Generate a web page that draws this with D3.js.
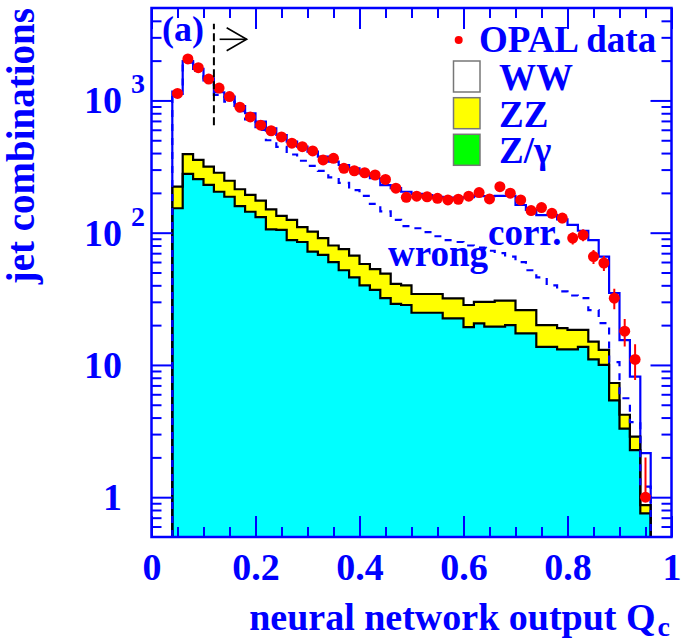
<!DOCTYPE html>
<html><head><meta charset="utf-8">
<script src="https://cdn.jsdelivr.net/npm/d3@7"></script>
<style>body{margin:0;background:#fff}svg{display:block}</style>
</head><body><svg id="c" width="682" height="638"></svg>
<script>
// ---- data ----
const binLow = [0.04,0.06,0.08,0.10,0.12,0.14,0.16,0.18,0.20,0.22,0.24,0.26,0.28,0.30,0.32,0.34,0.36,0.38,0.40,0.42,0.44,0.46,0.48,0.50,0.52,0.54,0.56,0.58,0.60,0.62,0.64,0.66,0.68,0.70,0.72,0.74,0.76,0.78,0.80,0.82,0.84,0.86,0.88,0.90,0.92,0.94];
const binWidth = 0.02;
const zgamma = [153,278,254,230,204,187,159,144,131,106,105,88,85,72,68,60,52,46,40,37,32,29,28.4,24.8,24.8,24.8,22.5,22.5,19.3,20.6,19.5,19.5,20,17.3,17.3,13.7,13.7,13.1,13.1,13.7,11.0,10.0,5.4,3.3,2.27,0.755];
const zz = [70,115,101,86,80,60,54,49,44,44,29,37,25,30,23,20,23,21,18,16,17,12,11.6,9.6,9.6,9.6,9.4,9.4,9.1,9.4,10.5,11.1,10.6,8.7,8.7,6.3,6.3,5.9,5.3,4.7,4.0,3.0,1.9,0.9,0.6,0.115];
const ww = [942,1594,1375,1154,869,820,695,607,516,465,414,363,337,308,285,265,250,240,223,205,180,176,164,162,158,152,152,152,157,159,159,159,159,136,123,116,116,107,96,85,73,53,27.7,11.2,5.3,1.28];
const wrongLine = [1120,1930,1680,1420,1100,980,830,720,600,500,445,390,350,320,293,262,238,210,190,165,145,125,112,108,101,94,88,85,80,77,73,70,66,60,52,46,40,36,33.5,32,26,20.7,10.5,5.6,3.7,1.2];
const opalData = [1130,2060,1770,1450,1240,1070,890,750,650,590,530,475,447,415,355,365,307,294,284,273,253,217,185,189,187,182,177,179,189,201,180,223,199,177,147,155,140,129,91,96,66,59,32,18,11,1];

const xMajor = [0,0.2,0.4,0.6,0.8,1];
const xMinor = [0.05,0.1,0.15,0.25,0.3,0.35,0.45,0.5,0.55,0.65,0.7,0.75,0.85,0.9,0.95];
const yMajor = [1,10,100,1000];
const yMinor = [0.6,0.7,0.8,0.9,2,3,4,5,6,7,8,9,20,30,40,50,60,70,80,90,200,300,400,500,600,700,800,900,2000,3000,4000];
const yTickBase = ["1","10","10","10"];
const yTickExp = ["","","2","3"];
const legendLabels = ["OPAL data","WW","ZZ","Z/\u03b3"];
const legendFills = [null,"#ffffff","#ffff00","#00ff00"];
const cutValue = 0.12;              // dashed selection cut
const cutRange = [650, 3800];
const arrowX = [0.131, 0.183];
const arrowY = 2900;

// ---- setup ----
const svg = d3.select("#c");
const BLUE = "#0000ff";
const FONT = "'Liberation Serif','Times New Roman',serif";
const x = d3.scaleLinear().domain([0,1]).range([151.5,671.5]);
const y = d3.scaleLog().domain([0.5,5000]).range([537,8]);
const yMin = 0.5;

const rows = binLow.map((lo,i)=>({lo:lo, hi:lo+binWidth, zgamma:zgamma[i], zz:zz[i], ww:ww[i]}));
const stacked = d3.stack().keys(["zgamma","zz","ww"])(rows);

svg.append("defs").append("clipPath").attr("id","plot")
  .append("rect").attr("x",x(0)).attr("y",y(5000)).attr("width",x(1)-x(0)).attr("height",y(yMin)-y(5000));
const plot = svg.append("g").attr("clip-path","url(#plot)");

function stepBand(layer){
  const pts=[];
  layer.forEach(d=>{pts.push({x:d.data.lo,y0:Math.max(d[0],yMin),y1:d[1]});pts.push({x:d.data.hi,y0:Math.max(d[0],yMin),y1:d[1]});});
  return pts;
}
function stepLine(vals){
  const pts=[[binLow[0],yMin]];
  vals.forEach((v,i)=>{pts.push([binLow[i],v]);pts.push([binLow[i]+binWidth,v]);});
  pts.push([binLow[binLow.length-1]+binWidth,yMin]);
  return pts;
}
const area = d3.area().x(d=>x(d.x)).y0(d=>y(d.y0)).y1(d=>y(d.y1));
const line = d3.line().x(d=>x(d[0])).y(d=>y(Math.max(d[1],0.01)));

// fills
plot.append("path").attr("d",area(stepBand(stacked[0]))).attr("fill","#00ffff");
plot.append("path").attr("d",area(stepBand(stacked[1]))).attr("fill","#ffff00");

// total MC (solid blue)
plot.append("path").attr("d",line(stepLine(stacked[2].map(d=>d[1]))))
  .attr("fill","none").attr("stroke",BLUE).attr("stroke-width",2.2);
// black outlines
plot.append("path").attr("d",line(stepLine(stacked[0].map(d=>d[1]))))
  .attr("fill","none").attr("stroke","#000").attr("stroke-width",2.2);
plot.append("path").attr("d",line(stepLine(stacked[1].map(d=>d[1]))))
  .attr("fill","none").attr("stroke","#000").attr("stroke-width",2.2);
// dashed blue
plot.append("path").attr("d",line(stepLine(wrongLine)))
  .attr("fill","none").attr("stroke",BLUE).attr("stroke-width",2.2).attr("stroke-dasharray","7,7");

// data points
const centers = binLow.map(lo=>lo+binWidth/2);
const pg = plot.append("g");
opalData.forEach((v,i)=>{
  const e = Math.sqrt(v);
  const lo = v-e>0 ? v-e : v;
  pg.append("line").attr("x1",x(centers[i])).attr("x2",x(centers[i]))
    .attr("y1",y(v+e)).attr("y2",y(lo)).attr("stroke","#ff0000").attr("stroke-width",2);
  pg.append("circle").attr("cx",x(centers[i])).attr("cy",y(v)).attr("r",5.5).attr("fill","#ff0000");
});

// cut line and arrow
svg.append("line").attr("x1",x(cutValue)).attr("x2",x(cutValue)).attr("y1",y(cutRange[0])).attr("y2",y(cutRange[1]))
  .attr("stroke","#000").attr("stroke-width",2).attr("stroke-dasharray","8,4");
svg.append("line").attr("x1",x(arrowX[0])).attr("x2",x(arrowX[1])).attr("y1",y(arrowY)).attr("y2",y(arrowY))
  .attr("stroke","#000").attr("stroke-width",1.6);
svg.append("path").attr("d",`M${x(arrowX[1])-20},${y(arrowY)-11.5}L${x(arrowX[1])},${y(arrowY)}L${x(arrowX[1])-20},${y(arrowY)+11.5}`)
  .attr("fill","none").attr("stroke","#000").attr("stroke-width",1.6);

// axes ticks
function styleAxis(g){ g.select(".domain").remove(); g.selectAll(".tick line").attr("stroke",BLUE).attr("stroke-width",2); }
svg.append("g").attr("transform","translate(0,537)")
  .call(d3.axisBottom(x).tickValues(xMajor).tickSize(-21).tickPadding(16).tickFormat(d=>String(d)))
  .call(styleAxis)
  .call(g=>g.selectAll("text").attr("fill",BLUE).attr("font-family",FONT).attr("font-weight","bold").attr("font-size",38));
svg.append("g").attr("transform","translate(0,537)").call(d3.axisBottom(x).tickValues(xMinor).tickSize(-10).tickFormat("")).call(styleAxis);
svg.append("g").attr("transform","translate(0,8)").call(d3.axisTop(x).tickValues(xMajor).tickSize(-21).tickFormat("")).call(styleAxis);
svg.append("g").attr("transform","translate(0,8)").call(d3.axisTop(x).tickValues(xMinor).tickSize(-10).tickFormat("")).call(styleAxis);
svg.append("g").attr("transform","translate(151.5,0)").call(d3.axisLeft(y).tickValues(yMajor).tickSize(-21).tickFormat("")).call(styleAxis);
svg.append("g").attr("transform","translate(151.5,0)").call(d3.axisLeft(y).tickValues(yMinor).tickSize(-10).tickFormat("")).call(styleAxis);
svg.append("g").attr("transform","translate(671.5,0)").call(d3.axisRight(y).tickValues(yMajor).tickSize(-21).tickFormat("")).call(styleAxis);
svg.append("g").attr("transform","translate(671.5,0)").call(d3.axisRight(y).tickValues(yMinor).tickSize(-10).tickFormat("")).call(styleAxis);

// y tick labels
const yl = svg.append("g").attr("fill",BLUE).attr("font-family",FONT).attr("font-weight","bold");
yMajor.forEach((v,i)=>{
  yl.append("text").attr("x",122).attr("y",y(v)+13).attr("text-anchor","end").attr("font-size",38).text(yTickBase[i]);
  if(yTickExp[i]) yl.append("text").attr("x",131).attr("y",y(v)-7).attr("font-size",28).text(yTickExp[i]);
});

// frame
svg.append("rect").attr("x",x(0)).attr("y",y(5000)).attr("width",x(1)-x(0)).attr("height",y(yMin)-y(5000))
  .attr("fill","none").attr("stroke",BLUE).attr("stroke-width",2.5);

// titles
const t = svg.append("g").attr("fill",BLUE).attr("font-family",FONT).attr("font-weight","bold");
const xt = t.append("text").attr("x",670).attr("y",630).attr("text-anchor","end").attr("font-size",38);
xt.append("tspan").text("neural network output Q");
xt.append("tspan").attr("font-size",28).attr("dx",2).attr("dy",6).text("c");
t.append("text").attr("transform","translate(33.5,8) rotate(-90)").attr("text-anchor","end").attr("font-size",39).text("jet combinations");
t.append("text").attr("x",162).attr("y",41).attr("font-size",36).text("(a)");
t.append("text").attr("x",388).attr("y",266).attr("font-size",37).text("wrong");
t.append("text").attr("x",488).attr("y",245).attr("font-size",37).text("corr.");

// legend
const lg = svg.append("g");
lg.append("circle").attr("cx",458.7).attr("cy",40).attr("r",4).attr("fill","#ff0000");
legendLabels.forEach((lab,i)=>{
  const base = [52,90,126.7,163.3][i];
  lg.append("text").attr("x",i===0?479:499).attr("y",base).attr("fill",BLUE).attr("font-family",FONT)
    .attr("font-weight","bold").attr("font-size",37).text(lab);
  if(legendFills[i]) lg.append("rect").attr("x",453.5).attr("y",base-29).attr("width",26.5).attr("height",31)
    .attr("fill",legendFills[i]).attr("stroke","#777").attr("stroke-width",1.5);
});
</script></body></html>
